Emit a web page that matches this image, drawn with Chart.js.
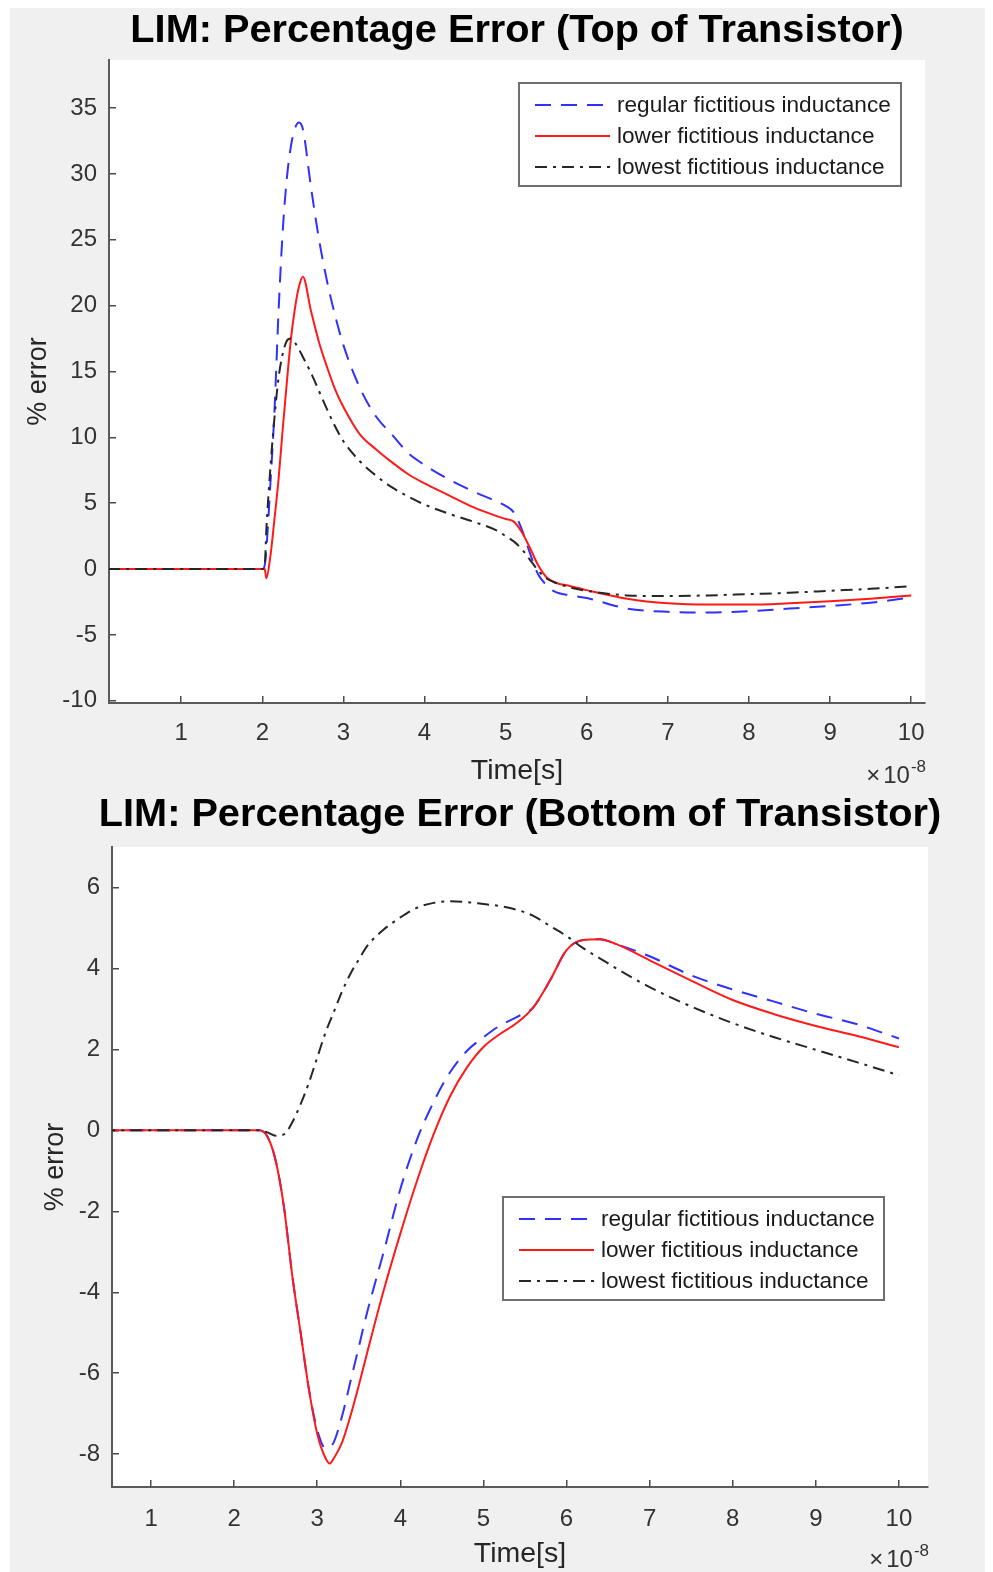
<!DOCTYPE html>
<html>
<head>
<meta charset="utf-8">
<title>LIM percentage error</title>
<script src="https://cdn.jsdelivr.net/npm/chart.js@4.4.1/dist/chart.umd.min.js"></script>
<style>
  html, body { margin: 0; padding: 0; background: #ffffff; }
  #figure { position: absolute; left: 10px; top: 8px; width: 975px; height: 1564px; background: #f0f0f0; }
  canvas { position: absolute; left: 0; }
  #topChart { top: 0; }
  #bottomChart { top: 790px; }
</style>
</head>
<body>
<div id="figure"></div>
<canvas id="topChart" width="993" height="790"></canvas>
<canvas id="bottomChart" width="993" height="782"></canvas>
<script>
// time in units of 1e-8 s
const timeTop = [0.1, 1, 2, 2.03, 2.05, 2.1, 2.15, 2.2, 2.25, 2.3, 2.35, 2.4, 2.45, 2.5, 2.6,
  2.7, 2.8, 2.9, 3.0, 3.2, 3.4, 3.6, 3.8, 4.0, 4.3, 4.6, 4.9, 5.0, 5.1, 5.2,
  5.3, 5.4, 5.5, 5.6, 5.8, 6.0, 6.5, 7.0, 7.5, 8.0, 8.5, 9.0, 9.5, 10.0];
const regularTop = [0, 0, 0, 0.3, 1.5, 6.5, 12, 19.5, 25.5, 29.5, 32, 33.4, 33.9, 33.4, 29,
  25, 21.8, 19.2, 17.0, 13.8, 11.6, 10.2, 8.8, 7.9, 6.8, 5.9, 5.1, 4.8, 4.3, 3.0,
  1.2, -0.4, -1.2, -1.7, -2.0, -2.2, -3.0, -3.25, -3.3, -3.2, -3.0, -2.8, -2.55, -2.15];
const lowerTop = [0, 0, 0, 0, -0.7, 1.0, 3.8, 6.8, 10.5, 14, 17.3, 19.7, 21.4, 22.2, 19.6,
  17.2, 15.3, 13.6, 12.3, 10.25, 9.1, 8.1, 7.2, 6.5, 5.6, 4.7, 4.0, 3.8, 3.6, 2.8,
  1.6, 0.3, -0.6, -1.0, -1.3, -1.6, -2.25, -2.6, -2.7, -2.7, -2.6, -2.45, -2.25, -2.0];
const lowestTop = [0, 0, 0, 0.3, 3.0, 7.7, 11.5, 14.5, 16.3, 17.3, 17.5, 17.2, 16.7, 16.1, 14.9,
  13.5, 12.1, 10.8, 9.7, 8.2, 7.1, 6.2, 5.5, 4.9, 4.2, 3.6, 2.9, 2.5, 2.1, 1.5,
  0.7, -0.1, -0.7, -1.0, -1.4, -1.65, -2.0, -2.05, -2.0, -1.9, -1.8, -1.65, -1.5, -1.3];

const timeBottom = [0.1, 1, 2, 2.3, 2.4, 2.5, 2.6, 2.7, 2.8, 2.9, 3.0, 3.1, 3.15, 3.2, 3.3, 3.4,
  3.5, 3.6, 3.8, 4.0, 4.2, 4.4, 4.6, 4.8, 5.0, 5.2, 5.4, 5.6, 5.8, 6.0, 6.2,
  6.4, 6.6, 7.0, 7.5, 8.0, 8.5, 9.0, 9.5, 10.0];
const regularBottom = [0, 0, 0, 0, -0.15, -0.75, -1.9, -3.6, -5.0, -6.4, -7.4, -7.85, -7.82, -7.7, -7.05, -6.2,
  -5.35, -4.5, -3.0, -1.45, -0.23, 0.7, 1.44, 1.96, 2.3, 2.59, 2.8, 3.04, 3.7, 4.45, 4.7,
  4.72, 4.6, 4.3, 3.83, 3.48, 3.18, 2.88, 2.62, 2.27];
const lowerBottom = [0, 0, 0, 0, -0.15, -0.75, -1.9, -3.6, -5.0, -6.4, -7.5, -8.1, -8.23, -8.1, -7.7, -7.05,
  -6.3, -5.5, -3.95, -2.55, -1.25, -0.1, 0.85, 1.55, 2.06, 2.38, 2.65, 3.04, 3.7, 4.45, 4.7,
  4.72, 4.6, 4.2, 3.7, 3.22, 2.87, 2.58, 2.33, 2.05];
const lowestBottom = [0, 0, 0, 0, -0.05, -0.13, -0.1, 0.2, 0.65, 1.18, 1.8, 2.42, 2.68, 2.93, 3.44, 3.87,
  4.22, 4.55, 4.96, 5.26, 5.5, 5.62, 5.66, 5.64, 5.59, 5.54, 5.45, 5.3, 5.05, 4.8, 4.5,
  4.25, 4.0, 3.54, 3.06, 2.65, 2.3, 1.99, 1.68, 1.36];

const seriesNames = ['regular fictitious inductance', 'lower fictitious inductance', 'lowest fictitious inductance'];
const timeTicks = [1, 2, 3, 4, 5, 6, 7, 8, 9, 10];
const yTicksTop = [-10, -5, 0, 5, 10, 15, 20, 25, 30, 35];
const yTicksBottom = [-8, -6, -4, -2, 0, 2, 4, 6];

const FONT = '"Liberation Sans", Arial, Helvetica, sans-serif';
Chart.defaults.font.family = FONT;

// MATLAB-ish figure chrome: white axes box, bold title, exponent label, boxed legend
const figureDecor = {
  id: 'figureDecor',
  beforeDraw(chart) {
    const {ctx, chartArea: a} = chart;
    ctx.save();
    ctx.fillStyle = '#ffffff';
    ctx.fillRect(a.left - 1, a.top, a.right - a.left + 1, a.bottom - a.top);
    ctx.restore();
  },
  afterDraw(chart, args, opts) {
    const {ctx, chartArea: a} = chart;
    ctx.save();

    ctx.fillStyle = '#000000';
    ctx.font = 'bold 39.7px ' + FONT;
    ctx.textAlign = 'center';
    ctx.textBaseline = 'middle';
    ctx.fillText(opts.title, (a.left + a.right) / 2, opts.titleY);

    // x10^-8 multiplier under the right end of the time axis
    ctx.fillStyle = '#333333';
    ctx.textBaseline = 'alphabetic';
    ctx.textAlign = 'right';
    ctx.font = '17px ' + FONT;
    const expW = ctx.measureText('-8').width;
    ctx.fillText('-8', a.right + 1, a.bottom + 69);
    ctx.font = '24px ' + FONT;
    const tenW = ctx.measureText('10').width;
    ctx.fillText('10', a.right - expW, a.bottom + 80);
    ctx.fillText('\u00d7', a.right - expW - tenW - 3, a.bottom + 80);

    // legend box
    const lg = opts.legend;
    ctx.fillStyle = '#ffffff';
    ctx.fillRect(lg.left, lg.top, lg.width, lg.height);
    ctx.strokeStyle = '#6f6f6f';
    ctx.lineWidth = 2;
    ctx.strokeRect(lg.left, lg.top, lg.width, lg.height);
    ctx.font = '22.6px ' + FONT;
    ctx.textAlign = 'left';
    ctx.textBaseline = 'middle';
    chart.data.datasets.forEach((ds, i) => {
      const y = lg.top + 22 + i * 31;
      ctx.beginPath();
      ctx.setLineDash(ds.borderDash || []);
      ctx.strokeStyle = ds.borderColor;
      ctx.lineWidth = ds.borderWidth;
      ctx.moveTo(lg.left + 16, y);
      ctx.lineTo(lg.left + 91, y);
      ctx.stroke();
      ctx.setLineDash([]);
      ctx.fillStyle = '#1a1a1a';
      ctx.fillText(ds.label, lg.left + 98, y + 1);
    });
    ctx.restore();
  }
};

function lineSet(label, times, values, color, dash, order) {
  return {
    label: label,
    data: times.map((t, i) => ({x: t, y: values[i]})),
    borderColor: color,
    borderWidth: 2,
    borderDash: dash,
    pointRadius: 0,
    cubicInterpolationMode: 'monotone',
    order: order
  };
}

function makeChart(canvasId, p) {
  const datasets = [
    lineSet(seriesNames[0], p.time, p.regular, '#3030ff', [16, 10], 2),
    lineSet(seriesNames[1], p.time, p.lower, '#ff1a1a', [], 1),
    lineSet(seriesNames[2], p.time, p.lowest, '#262626', [12, 6, 3, 6], 0)
  ];
  const tickFont = {size: 24, family: FONT};
  return new Chart(document.getElementById(canvasId), {
    type: 'line',
    data: {datasets: datasets},
    options: {
      responsive: false,
      animation: false,
      events: [],
      layout: {padding: {top: p.areaTop, right: 993 - p.areaRight, left: 0, bottom: 0}},
      scales: {
        x: {
          type: 'linear',
          min: p.xMin,
          max: p.xMax,
          afterBuildTicks: s => { s.ticks = timeTicks.map(v => ({value: v})); },
          afterFit: s => { s.height = p.xAxisHeight; },
          grid: {drawOnChartArea: false, tickLength: -7, color: '#4a4a4a', lineWidth: 1.5},
          border: {color: '#5a5a5a', width: 2},
          ticks: {padding: p.xTickPad, color: '#333333', font: tickFont, maxRotation: 0},
          title: {display: true, text: 'Time[s]', color: '#262626',
                  font: {size: 28.5, family: FONT, lineHeight: 1.2},
                  padding: {top: 0, bottom: p.xTitlePad}}
        },
        y: {
          min: p.yMin,
          max: p.yMax,
          afterBuildTicks: s => { s.ticks = p.yTicks.map(v => ({value: v})); },
          afterFit: s => { s.width = p.areaLeft; },
          grid: {drawOnChartArea: false, tickLength: -7, color: '#4a4a4a', lineWidth: 1.5},
          border: {color: '#5a5a5a', width: 2},
          ticks: {padding: 19, color: '#333333', font: tickFont},
          title: {display: true, text: '% error', color: '#262626',
                  font: {size: 27, family: FONT, lineHeight: 1.2},
                  padding: {top: p.yTitlePad, bottom: 0}}
        }
      },
      plugins: {
        legend: {display: false},
        title: {display: false},
        tooltip: {enabled: false},
        figureDecor: {title: p.title, titleY: p.titleY, legend: p.legend}
      }
    },
    plugins: [figureDecor]
  });
}

makeChart('topChart', {
  title: 'LIM: Percentage Error (Top of Transistor)',
  titleY: 31,
  time: timeTop, regular: regularTop, lower: lowerTop, lowest: lowestTop,
  xMin: 0.11, xMax: 10.17, yMin: -10.17, yMax: 38.65, yTicks: yTicksTop,
  areaLeft: 109, areaRight: 925, areaTop: 60, xAxisHeight: 87,
  xTickPad: 23, xTitlePad: 2, yTitlePad: 22,
  legend: {left: 519, top: 83, width: 382, height: 103}
});

makeChart('bottomChart', {
  title: 'LIM: Percentage Error (Bottom of Transistor)',
  titleY: 25,
  time: timeBottom, regular: regularBottom, lower: lowerBottom, lowest: lowestBottom,
  xMin: 0.53, xMax: 10.35, yMin: -8.81, yMax: 7, yTicks: yTicksBottom,
  areaLeft: 112, areaRight: 928, areaTop: 57, xAxisHeight: 85,
  xTickPad: 25, xTitlePad: 1, yTitlePad: 39,
  legend: {left: 503, top: 407, width: 381, height: 103}
});
</script>
</body>
</html>
